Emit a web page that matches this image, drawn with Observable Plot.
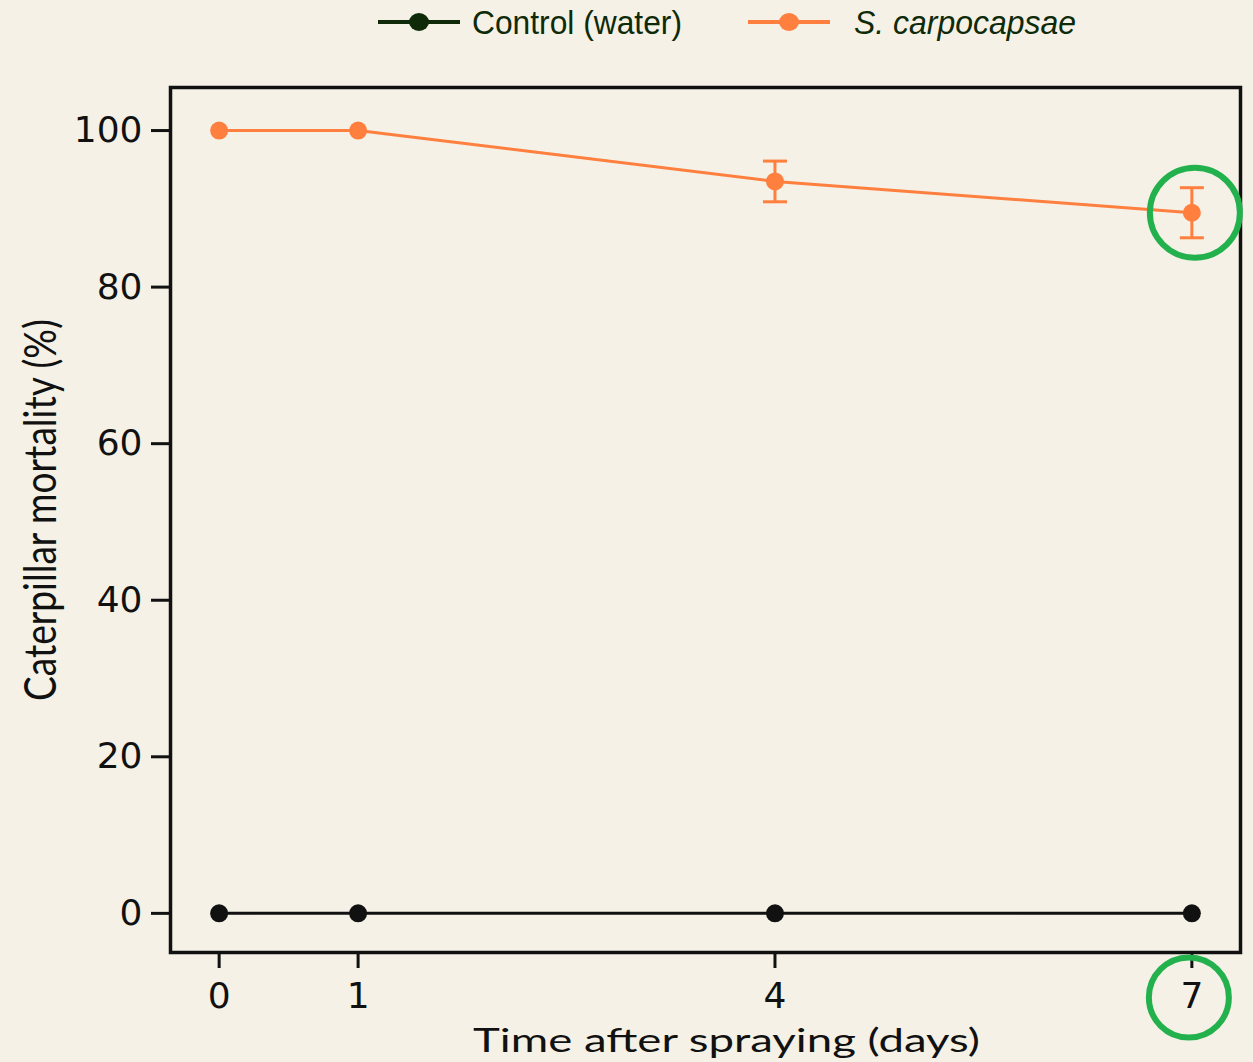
<!DOCTYPE html>
<html>
<head>
<meta charset="utf-8">
<script src="https://cdn.jsdelivr.net/npm/d3@7"></script>
<script src="https://cdn.jsdelivr.net/npm/@observablehq/plot@0.6"></script>
<style>
  html, body { margin: 0; padding: 0; background: #F5F1E6; }
  #wrap { width: 1253px; height: 1062px; background: #F5F1E6; position: relative; overflow: hidden; }
  #legend { height: 50px; position: relative; font-family: "Liberation Sans", Arial, sans-serif; font-size: 34px; color: #0E2A08; }
  .item { position: absolute; top: 2px; display: flex; align-items: center; height: 40px; white-space: nowrap; }
  .item svg { margin-right: 12px; flex: none; }
  .item span { display: inline-block; transform-origin: left center; }
  svg { display: block; }
</style>
</head>
<body>
<div id="wrap">
  <div id="legend"></div>
  <div id="chart"></div>
</div>
<script>
const days = [0, 1, 4, 7];
const controlMortality = [0, 0, 0, 0];
const controlError = [0, 0, 0, 0];
const carpoMortality = [100, 100, 93.5, 89.5];
const carpoError = [0, 0, 2.6, 3.2];
const seriesNames = ["Control (water)", "S. carpocapsae"];
const seriesColors = ["#111111", "#FF7F3F"];
const legendColors = ["#0E2A08", "#FF7F3F"];
const yTicks = [0, 20, 40, 60, 80, 100];
const xTicks = [0, 1, 4, 7];
const highlightDay = [7];
const highlightValue = [89.5];

const rows = [];
days.forEach((d, i) => {
  rows.push({series: seriesNames[0], day: d, value: controlMortality[i], err: controlError[i]});
  rows.push({series: seriesNames[1], day: d, value: carpoMortality[i], err: carpoError[i]});
});
const errRows = rows.filter(r => r.err > 0);
const colorOf = s => seriesColors[seriesNames.indexOf(s)];

// legend
const legend = document.getElementById("legend");
const legendX = [378, 748];
const legendTextWidth = [210, 222];
seriesNames.forEach((name, i) => {
  const div = document.createElement("div");
  div.className = "item";
  div.style.left = legendX[i] + "px";
  div.innerHTML = `<svg width="82" height="20"><line x1="0" y1="10" x2="82" y2="10" stroke="${legendColors[i]}" stroke-width="4"/><ellipse cx="41" cy="10" rx="10" ry="9" fill="${legendColors[i]}"/></svg><span style="${i === 1 ? 'font-style:italic;margin-left:12px' : ''}">${name}</span>`;
  legend.appendChild(div);
  const span = div.querySelector("span");
  const w = span.getBoundingClientRect().width;
  span.style.transform = `scaleX(${legendTextWidth[i] / w})`;
});

const capSymbol = {
  draw(context, size) {
    const w = 12;
    context.moveTo(-w, 0);
    context.lineTo(w, 0);
  }
};

const chart = Plot.plot({
  width: 1253,
  height: 1012,
  marginLeft: 170,
  marginRight: 13,
  marginTop: 37,
  marginBottom: 110,
  style: {background: "transparent", fontFamily: "'DejaVu Sans', sans-serif", color: "#111"},
  x: {domain: [-0.35, 7.35], ticks: xTicks, label: null},
  y: {domain: [-5, 105.5], ticks: yTicks, label: null},
  marks: [
    Plot.frame({stroke: "#111", strokeWidth: 3.5}),
    Plot.axisY({ticks: yTicks, tickSize: 19, tickPadding: 9, fontSize: 36, strokeWidth: 3, label: null}),
    Plot.axisX({ticks: xTicks, tickSize: 16, tickPadding: 14, fontSize: 36, strokeWidth: 3, label: null}),
    Plot.text(["Caterpillar mortality (%)"], {frameAnchor: "left", textAnchor: "middle", lineAnchor: "middle", dx: -129, dy: -10, rotate: -90, fontSize: 44, fontFamily: "Lato, sans-serif", fill: "#111", className: "ylab"}),
    Plot.text(["Time after spraying (days)"], {frameAnchor: "bottom", textAnchor: "middle", lineAnchor: "middle", dy: 89, dx: 21, fontSize: 33, fontFamily: "Lato, sans-serif", fill: "#111", className: "xlab"}),
    Plot.line(rows, {x: "day", y: "value", z: "series", stroke: d => colorOf(d.series), strokeWidth: 3}),
    Plot.ruleX(errRows, {x: "day", y1: d => d.value - d.err, y2: d => d.value + d.err, stroke: d => colorOf(d.series), strokeWidth: 3}),
    Plot.dot(errRows, {x: "day", y: d => d.value - d.err, symbol: capSymbol, stroke: d => colorOf(d.series), strokeWidth: 3}),
    Plot.dot(errRows, {x: "day", y: d => d.value + d.err, symbol: capSymbol, stroke: d => colorOf(d.series), strokeWidth: 3}),
    Plot.dot(rows, {x: "day", y: "value", r: 9, fill: d => colorOf(d.series), stroke: null}),
    Plot.dot(highlightDay.map((d, i) => ({day: d, value: highlightValue[i]})), {x: "day", y: "value", r: 45, dx: 3, fill: "none", stroke: "#22B14C", strokeWidth: 6}),
    Plot.dot(highlightDay, {x: d => d, frameAnchor: "bottom", dy: 45, dx: -3, r: 40, fill: "none", stroke: "#22B14C", strokeWidth: 6})
  ]
});
chart.querySelectorAll("[aria-label='y-axis tick label'] text, [aria-label='x-axis tick label'] text").forEach(t => t.setAttribute("fill", "#111"));
const ylab = chart.querySelector(".ylab text");
if (ylab) { ylab.setAttribute("textLength", 382); ylab.setAttribute("lengthAdjust", "spacingAndGlyphs"); }
const xlab = chart.querySelector(".xlab text");
if (xlab) { xlab.setAttribute("textLength", 507); xlab.setAttribute("lengthAdjust", "spacingAndGlyphs"); }
document.getElementById("chart").appendChild(chart);
</script>
</body>
</html>
